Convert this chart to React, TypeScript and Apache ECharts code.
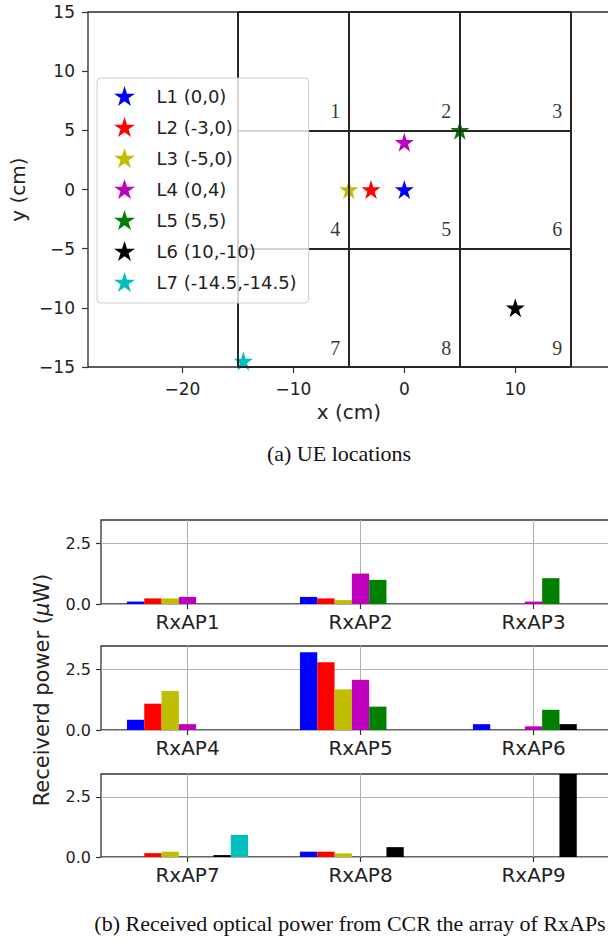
import React, { useEffect, useRef } from 'react';
import * as echarts from 'echarts';

const STAR =
  'path://M50 0 L61.23 34.55 L97.55 34.55 L68.17 55.9 L79.39 90.45 L50 69.1 L20.61 90.45 L31.83 55.9 L2.45 34.55 L38.77 34.55 Z';

// ---- (a) UE locations ----
const locationNames = ['L1 (0,0)', 'L2 (-3,0)', 'L3 (-5,0)', 'L4 (0,4)', 'L5 (5,5)', 'L6 (10,-10)', 'L7 (-14.5,-14.5)'];
const locationX = [0, -3, -5, 0, 5, 10, -14.5];
const locationY = [0, 0, 0, 4, 5, -10, -14.5];
const locationColors = ['#0000ff', '#ff0000', '#bfbf00', '#bf00bf', '#008000', '#000000', '#00bfbf'];

const cellEdges = [-15, -5, 5, 15];
const cellLabels = ['1', '2', '3', '4', '5', '6', '7', '8', '9'];

const xTickValues = [-20, -10, 0, 10];
const xRange = [-28.5, 18.53];
const yRange = [-15, 15];

// ---- (b) received power per RxAP (uW) ----
const rxapNames = ['RxAP1', 'RxAP2', 'RxAP3', 'RxAP4', 'RxAP5', 'RxAP6', 'RxAP7', 'RxAP8', 'RxAP9'];
const powerL1 = [0.1, 0.29, 0, 0.42, 3.19, 0.24, 0, 0.22, 0];
const powerL2 = [0.23, 0.23, 0, 1.08, 2.78, 0, 0.16, 0.22, 0];
const powerL3 = [0.23, 0.16, 0, 1.6, 1.67, 0, 0.22, 0.15, 0];
const powerL4 = [0.29, 1.25, 0.1, 0.24, 2.06, 0.15, 0, 0, 0];
const powerL5 = [0, 0.99, 1.06, 0, 0.96, 0.83, 0, 0, 0];
const powerL6 = [0, 0, 0, 0, 0, 0.24, 0.08, 0.41, 4.2];
const powerL7 = [0, 0, 0, 0, 0, 0, 0.92, 0, 0];
const powerSeries = [powerL1, powerL2, powerL3, powerL4, powerL5, powerL6, powerL7];
const powerTicks = [0, 2.5];
const powerMax = 3.45;

const SANS = "'DejaVu Sans', sans-serif";
const SERIF = "'Liberation Serif', 'Times New Roman', serif";
const minus = (v: number) => (v < 0 ? '\u2212' + Math.abs(v) : String(v));

export default function App() {
  const ref = useRef<HTMLDivElement>(null);

  useEffect(() => {
    if (!ref.current) return;
    const chart = echarts.init(ref.current, undefined, { renderer: 'svg' });

    const gridSegments = [
      ...cellEdges.map((x) => ({ coords: [[x, cellEdges[0]], [x, cellEdges[3]]] })),
      ...cellEdges.map((y) => ({ coords: [[cellEdges[0], y], [cellEdges[3], y]] })),
    ];
    const cellLabelData = cellLabels.map((lab, k) => {
      const r = Math.floor(k / 3);
      const c = k % 3;
      return { name: lab, value: [cellEdges[c + 1], cellEdges[2 - r]] };
    });

    const panelTops = [520, 646, 774];
    const panelHeights = [84, 84, 83];

    const grids: any[] = [
      {
        left: 88, top: 12, right: -2, height: 355,
        show: true, borderColor: '#2a2a2a', borderWidth: 1.3, backgroundColor: 'transparent',
        outerBoundsMode: 'none',
      },
      ...panelTops.map((t, p) => ({
        left: 101, top: t, right: -12, height: panelHeights[p],
        show: true, borderColor: '#333', borderWidth: 1.3, backgroundColor: 'transparent',
        outerBoundsMode: 'none',
      })),
    ];

    const xAxes: any[] = [
      {
        type: 'value', gridIndex: 0, min: xRange[0], max: xRange[1],
        name: 'x (cm)', nameLocation: 'middle', nameGap: 35,
        nameTextStyle: { fontFamily: SANS, fontSize: 20, color: '#222' },
        axisLine: { show: false, onZero: false },
        axisTick: { show: true, length: 6, customValues: xTickValues, lineStyle: { color: '#333', width: 1.2 } },
        axisLabel: { customValues: xTickValues, formatter: (v: number) => minus(v), fontFamily: SANS, fontSize: 17, color: '#222', margin: 13 },
        splitLine: { show: false },
      },
      ...panelTops.map((_, p) => ({
        type: 'category', gridIndex: p + 1, data: rxapNames.slice(p * 3, p * 3 + 3), boundaryGap: true,
        axisLine: { show: false, onZero: false },
        axisTick: { show: true, alignWithLabel: true, length: 5, lineStyle: { color: '#333', width: 1.2 } },
        axisLabel: { fontFamily: SANS, fontSize: 20, color: '#222', margin: 8, interval: 0 },
        splitLine: { show: true, alignWithLabel: true, interval: 0, lineStyle: { color: '#b0b0b0', width: 1 } },
      })),
    ];

    const yAxes: any[] = [
      {
        type: 'value', gridIndex: 0, min: yRange[0], max: yRange[1], interval: 5,
        name: 'y (cm)', nameLocation: 'middle', nameGap: 57,
        nameTextStyle: { fontFamily: SANS, fontSize: 20, color: '#222' },
        axisLine: { show: false, onZero: false },
        axisTick: { show: true, length: 6, lineStyle: { color: '#333', width: 1.2 } },
        axisLabel: { formatter: (v: number) => minus(v), fontFamily: SANS, fontSize: 17, color: '#222', margin: 13 },
        splitLine: { show: false },
      },
      ...panelTops.map((_, p) => ({
        type: 'value', gridIndex: p + 1, min: 0, max: powerMax, interval: 2.5,
        axisLine: { show: false, onZero: false },
        axisTick: { show: true, length: 5, customValues: powerTicks, lineStyle: { color: '#333', width: 1.2 } },
        axisLabel: {
          showMaxLabel: false, hideOverlap: false,
          formatter: (v: number) => (powerTicks.indexOf(v) >= 0 ? v.toFixed(1) : ''),
          fontFamily: SANS, fontSize: 16, color: '#222', margin: 10,
        },
        splitLine: { show: true, lineStyle: { color: '#b0b0b0', width: 1 } },
      })),
    ];

    const series: any[] = [
      ...locationNames.map((n, i) => ({
        type: 'scatter', name: n, xAxisIndex: 0, yAxisIndex: 0,
        data: [[locationX[i], locationY[i]]],
        symbol: STAR, symbolSize: 19,
        itemStyle: { color: locationColors[i], opacity: 1 },
        z: 2,
      })),
      {
        type: 'lines', coordinateSystem: 'cartesian2d', xAxisIndex: 0, yAxisIndex: 0,
        data: gridSegments, polyline: false, silent: true,
        lineStyle: { color: '#262626', width: 2, opacity: 1 },
        z: 3,
      },
      {
        type: 'scatter', xAxisIndex: 0, yAxisIndex: 0, data: cellLabelData,
        symbolSize: 1, itemStyle: { color: 'transparent' }, silent: true,
        label: {
          show: true, formatter: '{b}', position: [-8, -9], align: 'right', verticalAlign: 'bottom',
          fontFamily: SERIF, fontSize: 20, color: '#000',
        },
        z: 4,
      },
    ];

    panelTops.forEach((_, p) => {
      powerSeries.forEach((vals, i) => {
        series.push({
          type: 'bar', name: `bar-${p}-${i}`, xAxisIndex: p + 1, yAxisIndex: p + 1,
          data: vals.slice(p * 3, p * 3 + 3),
          barWidth: '10%', barGap: '0%', barCategoryGap: '30%',
          itemStyle: { color: locationColors[i] },
          clip: true, z: 2,
        });
      });
    });

    chart.setOption({
      animation: false,
      backgroundColor: '#ffffff',
      grid: grids,
      xAxis: xAxes,
      yAxis: yAxes,
      legend: {
        data: locationNames.map((n) => ({ name: n, icon: STAR })),
        orient: 'vertical', left: 97, top: 78,
        itemWidth: 54, itemHeight: 20, itemGap: 11,
        padding: [8, 12, 11, 17],
        backgroundColor: 'rgba(255,255,255,0.8)', borderColor: '#cccccc', borderWidth: 1, borderRadius: 4,
        textStyle: { fontFamily: SANS, fontSize: 18, color: '#222', lineHeight: 18 },
        selectedMode: false,
      },
      graphic: [
        {
          type: 'text', x: 339, y: 453,
          style: { text: '(a) UE locations', font: `22px ${SERIF}`, fill: '#111', align: 'center', verticalAlign: 'middle' },
        },
        {
          type: 'text', x: 350, y: 923,
          style: {
            text: '(b) Received optical power from CCR the array of RxAPs',
            font: `22px ${SERIF}`, fill: '#111', align: 'center', verticalAlign: 'middle',
          },
        },
        {
          type: 'text', x: 42, y: 690, rotation: Math.PI / 2,
          style: {
            text: 'Receiverd power ({i|\u03bc}W)',
            font: `21px ${SANS}`, fill: '#222', align: 'center', verticalAlign: 'middle',
            rich: { i: { fontStyle: 'italic', fontFamily: SANS, fontSize: 21, fill: '#222' } },
          },
        },
      ],
      series,
    });

    return () => chart.dispose();
  }, []);

  return <div ref={ref} style={{ position: 'fixed', left: 0, top: 0, width: 608, height: 952 }} />;
}
